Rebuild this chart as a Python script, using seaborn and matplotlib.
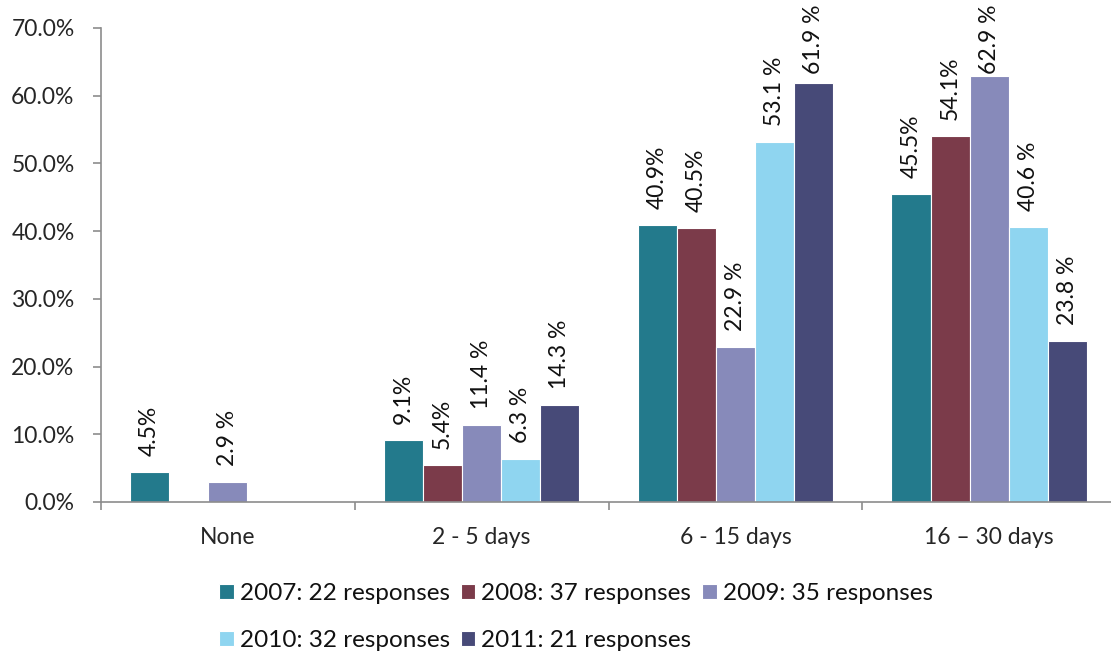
import numpy as np
import pandas as pd
import matplotlib
matplotlib.use("Agg")
import matplotlib.pyplot as plt
import seaborn as sns

# Share of respondents by length of stay, per survey year
categories = ["None", "2 - 5 days", "6 - 15 days", "16 \u2013 30 days"]
series_names = ["2007: 22 responses", "2008: 37 responses", "2009: 35 responses",
                "2010: 32 responses", "2011: 21 responses"]
values_2007 = [4.5, 9.1, 40.9, 45.5]
values_2008 = [np.nan, 5.4, 40.5, 54.1]
values_2009 = [2.9, 11.4, 22.9, 62.9]
values_2010 = [np.nan, 6.3, 53.1, 40.6]
values_2011 = [np.nan, 14.3, 61.9, 23.8]
label_suffix = ["%", "%", " %", " %", " %"]
y_ticks = [0, 10, 20, 30, 40, 50, 60, 70]

colors = ["#237A8C", "#7B3B4A", "#878ABA", "#8FD5F0", "#474A78"]

sns.set_style("white")
plt.rcParams["font.family"] = ["Lato", "DejaVu Sans"]
plt.rcParams["text.color"] = "#111111"
FS = 16.5
LEG_FS = 17.5

all_values = [values_2007, values_2008, values_2009, values_2010, values_2011]
rows = []
for name, vals in zip(series_names, all_values):
    for cat, v in zip(categories, vals):
        rows.append({"period": cat, "year": name, "share": v})
df = pd.DataFrame(rows).dropna()

W, H = 1111, 658
fig = plt.figure(figsize=(W / 100, H / 100), dpi=100)
ax = fig.add_axes([101 / W, (H - 502) / H, (1116 - 101) / W, (502 - 28) / H])

sns.barplot(data=df, x="period", y="share", hue="year", order=categories,
            hue_order=series_names, palette=colors, width=0.77, saturation=1,
            edgecolor="white", linewidth=0.8, errorbar=None, ax=ax)

ax.set_xlim(-0.5, 3.5)
ax.set_ylim(0, 70)
ax.set_yticks(y_ticks)
ax.set_yticklabels([f"{t:.1f}%" for t in y_ticks])
ax.set_xlabel("")
ax.set_ylabel("")

gray = "#8C8C8C"
for s in ["top", "right"]:
    ax.spines[s].set_visible(False)
for s in ["left", "bottom"]:
    ax.spines[s].set_color(gray)
    ax.spines[s].set_linewidth(1.2)

ax.tick_params(axis="y", which="major", length=6, width=1.2, color=gray,
               labelsize=FS, pad=13, left=True, direction="out")
ax.tick_params(axis="x", which="major", length=0, labelsize=FS, pad=18)
ax.set_xticks([-0.5, 0.5, 1.5, 2.5, 3.5], minor=True)
ax.tick_params(axis="x", which="minor", length=6, width=1.2, color=gray,
               bottom=True, direction="out")

# Value labels, rotated above each bar
texts = []
for cont, suffix in zip(ax.containers, label_suffix):
    for bar in cont:
        v = bar.get_height()
        if np.isnan(v):
            continue
        t = ax.annotate(f"{v:.1f}{suffix}",
                        xy=(bar.get_x() + bar.get_width() / 2, v),
                        xytext=(0, 11.5), textcoords="offset points",
                        rotation=90, ha="center", va="bottom", fontsize=FS,
                        annotation_clip=False)
        texts.append(t)

# Legend: two rows below the plot
handles, labels = ax.get_legend_handles_labels()
ax.get_legend().remove()
order = [0, 3, 1, 4, 2]
fig.legend([handles[i] for i in order], [labels[i] for i in order],
           ncol=3, loc="upper left", bbox_to_anchor=(219 / W, 1 - 583 / H),
           frameon=False, fontsize=LEG_FS, handlelength=0.6, handleheight=0.6,
           handletextpad=0.25, columnspacing=0.45, labelspacing=1.07,
           borderaxespad=0, borderpad=0)

# Keep tall labels inside the figure
fig.canvas.draw()
renderer = fig.canvas.get_renderer()
top_limit = fig.bbox.height - 5
for t in texts:
    bb = t.get_window_extent(renderer)
    if bb.y1 > top_limit:
        shift = (bb.y1 - top_limit) * 72 / fig.dpi
        x0, y0 = t.xyann
        t.xyann = (x0, y0 - shift)

fig.savefig("out.png", dpi=100)
